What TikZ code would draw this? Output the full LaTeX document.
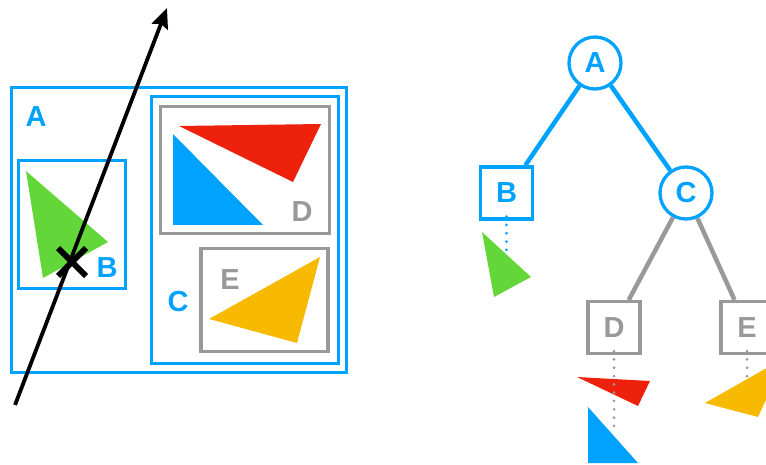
\documentclass[tikz,border=0pt]{standalone}
\usepackage{fontspec}
\setmainfont{Liberation Sans}
\usetikzlibrary{arrows.meta}
\definecolor{skyblue}{HTML}{00A2FF}
\definecolor{boxgray}{HTML}{999999}
\definecolor{leafgreen}{HTML}{63D73A}
\definecolor{leafred}{HTML}{EE220C}
\definecolor{leafyellow}{HTML}{F8BA00}
\begin{document}
\begin{tikzpicture}[x=1pt,y=-1pt,
  lbl/.style={font=\fontsize{29}{29}\selectfont\bfseries, inner sep=0pt},
  bluebox/.style={draw=skyblue, line width=3pt},
  graybox/.style={draw=boxgray, line width=3.3pt},
  tcirc/.style={lbl, circle, draw=skyblue, text=skyblue, line width=3.3pt, minimum size=52pt},
  tsqblue/.style={lbl, rectangle, draw=skyblue, text=skyblue, line width=3.3pt, minimum size=52pt},
  tsqgray/.style={lbl, rectangle, draw=boxgray, text=boxgray, line width=3.3pt, minimum size=52pt},
  bluedge/.style={draw=skyblue, line width=4.5pt},
  grayedge/.style={draw=boxgray, line width=4.5pt},
  dots/.style={line width=3pt, line cap=round, dash pattern=on 0pt off 8.3pt}
]
\useasboundingbox (0,0) rectangle (766,465);
\clip (0,0) rectangle (766,465);

% ---------- spatial view: nested bounding boxes ----------
\draw[bluebox] (11.5,88) rectangle (346.5,372);   % A
\draw[bluebox] (18.5,160.5) rectangle (125.5,288); % B
\draw[bluebox] (151.5,97) rectangle (338,363);     % C
\draw[graybox] (160.5,106.5) rectangle (329.5,233.5); % D
\draw[graybox] (201,248.5) rectangle (328,351.5);     % E

% primitives
\fill[leafgreen] (26,171) -- (108,242) -- (43,278) -- cycle;
\fill[leafred] (179,126) -- (321,124) -- (293,182) -- cycle;
\fill[skyblue] (173,134) -- (173,225) -- (263,225) -- cycle;
\fill[leafyellow] (320,257) -- (209,319) -- (297,343) -- cycle;

% box labels
\node[lbl, text=skyblue] (labA) at (36,117) {A};
\node[lbl, text=skyblue] (labB) at (107,268) {B};
\node[lbl, text=skyblue] (labC) at (178,302) {C};
\node[lbl, text=boxgray] (labD) at (302,212) {D};
\node[lbl, text=boxgray] (labE) at (230,280) {E};

% ray and its hit point
\coordinate (rayS) at (15,405);
\coordinate (rayE) at (167,8);
\draw[line width=3.8pt, -{Stealth[length=20pt, width=17pt, inset=3pt]}] (rayS) -- (rayE);
\coordinate (hit) at (72,262);
\draw[line width=6pt] ([shift={(-14,-14)}]hit) -- ([shift={(14,14)}]hit)
                      ([shift={(14,-14)}]hit) -- ([shift={(-14,14)}]hit);

% ---------- hierarchy tree ----------
\node[tcirc] (tA) at (595,63) {A};
\node[tsqblue] (tB) at (506.5,193) {B};
\node[tcirc] (tC) at (686,193) {C};
\node[tsqgray] (tD) at (614,327.5) {D};
\node[tsqgray] (tE) at (747,327.5) {E};

\draw[bluedge] (tA) -- (tB);
\draw[bluedge] (tA) -- (tC);
\draw[grayedge] (tC) -- (tD);
\draw[grayedge] (tC) -- (tE);

% leaf primitives
\fill[leafgreen] (482,232) -- (531,277) -- (494,297) -- cycle;
\fill[leafred] (577,377) -- (650,381) -- (638,406) -- cycle;
\fill[skyblue] (588,407) -- (588,463) -- (638,463) -- cycle;
\fill[leafyellow] (705,403) -- (786,357) -- (758,417) -- cycle;

\coordinate (bEnd) at (506.5,250);
\coordinate (dEnd) at (614,431);
\coordinate (eEnd) at (747,378);
\draw[dots, skyblue] ([yshift=4pt]tB.south) -- (bEnd);
\draw[dots, boxgray] ([yshift=4pt]tD.south) -- (dEnd);
\draw[dots, boxgray] ([yshift=4pt]tE.south) -- (eEnd);
\end{tikzpicture}
\end{document}
